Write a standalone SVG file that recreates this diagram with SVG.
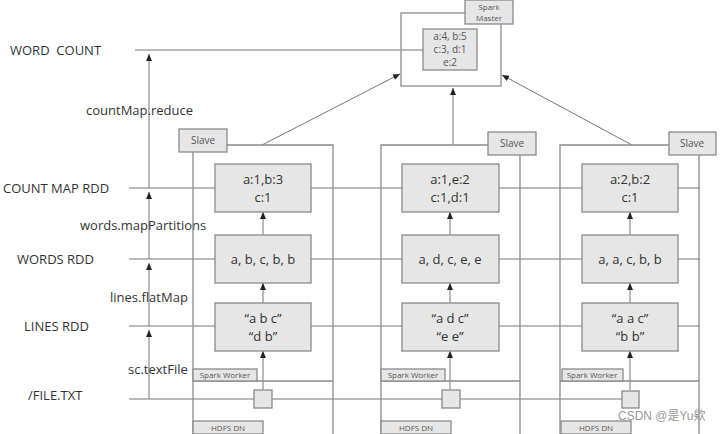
<svg xmlns="http://www.w3.org/2000/svg" width="728" height="434" viewBox="0 0 728 434">
<style>
text{font-family:"Open Sans","Liberation Sans",sans-serif;fill:#333}
.lbl{font-size:13px}
.b{fill:#e6e6e6;stroke:#8a8a8a;stroke-width:1.3}
.o{fill:none;stroke:#8a8a8a;stroke-width:1.3}
.l{stroke:#777;stroke-width:1;fill:none}
.d{font-size:13px;text-anchor:middle}
.s{font-size:9px;text-anchor:middle;fill:#555}
</style>
<defs><marker id="a" markerWidth="8" markerHeight="8" refX="7" refY="4" orient="auto" markerUnits="userSpaceOnUse"><path d="M0,1 L7,4 L0,7z" fill="#222"/></marker></defs>
<rect width="728" height="434" fill="#fff"/>
<g id="connectors">
<line class="l" x1="135" y1="50" x2="423" y2="50"/>
<line class="l" x1="129" y1="188" x2="700" y2="188"/>
<line class="l" x1="129" y1="259" x2="700" y2="259"/>
<line class="l" x1="129" y1="326" x2="700" y2="326"/>
<line class="l" x1="129" y1="399" x2="622" y2="399"/>
<line class="l" x1="149" y1="399" x2="149" y2="330" marker-end="url(#a)"/>
<line class="l" x1="149" y1="326" x2="149" y2="263" marker-end="url(#a)"/>
<line class="l" x1="149" y1="259" x2="149" y2="192" marker-end="url(#a)"/>
<line class="l" x1="149" y1="188" x2="149" y2="54" marker-end="url(#a)"/>
<g>
<line class="l" x1="263" y1="390" x2="263" y2="351" marker-end="url(#a)"/>
<line class="l" x1="263" y1="303" x2="263" y2="283" marker-end="url(#a)"/>
<line class="l" x1="263" y1="235" x2="263" y2="212" marker-end="url(#a)"/>
<line class="l" x1="450" y1="390" x2="450" y2="351" marker-end="url(#a)"/>
<line class="l" x1="450" y1="303" x2="450" y2="283" marker-end="url(#a)"/>
<line class="l" x1="450" y1="235" x2="450" y2="212" marker-end="url(#a)"/>
<line class="l" x1="630" y1="390" x2="630" y2="351" marker-end="url(#a)"/>
<line class="l" x1="630" y1="303" x2="630" y2="283" marker-end="url(#a)"/>
<line class="l" x1="630" y1="235" x2="630" y2="212" marker-end="url(#a)"/>
</g>
<line class="l" x1="262" y1="145" x2="400" y2="74" marker-end="url(#a)"/>
<line class="l" x1="453" y1="145" x2="453" y2="88" marker-end="url(#a)"/>
<line class="l" x1="632" y1="145" x2="502" y2="75" marker-end="url(#a)"/>
</g>
<g id="labels">
<text class="lbl" x="10" y="55" xml:space="preserve">WORD  COUNT</text>
<text class="lbl" x="86" y="115">countMap.reduce</text>
<text class="lbl" x="3" y="193">COUNT MAP RDD</text>
<text class="lbl" x="80" y="230">words.mapPartitions</text>
<text class="lbl" x="17" y="264">WORDS RDD</text>
<text class="lbl" x="110" y="302">lines.flatMap</text>
<text class="lbl" x="24" y="331">LINES RDD</text>
<text class="lbl" x="128" y="374">sc.textFile</text>
<text class="lbl" x="28" y="400">/FILE.TXT</text>
</g>
<g id="master">
<rect class="o" x="401" y="13" width="100" height="73" fill="#fff"/>
<rect class="b" x="465" y="0" width="48" height="24"/>
<text class="s" style="font-size:8px" x="489" y="10">Spark</text><text class="s" style="font-size:8px" x="489" y="21">Master</text>
<rect class="b" x="423" y="29" width="54" height="41"/>
<text class="s" style="font-size:10px" x="450" y="40">a:4, b:5</text>
<text class="s" style="font-size:10px" x="450" y="53">c:3, d:1</text>
<text class="s" style="font-size:10px" x="450" y="66">e:2</text>
</g>
<g id="slave1">
<path class="o" d="M193,434 V145 H333 V434"/>
<rect class="b" x="179" y="129" width="48" height="23"/>
<text class="s" style="font-size:10px" x="203" y="144">Slave</text>
<line class="o" x1="193" y1="381" x2="333" y2="381"/>
<rect class="b" x="193" y="369" width="64" height="12"/>
<text class="s" style="font-size:8px" x="225" y="378">Spark Worker</text>
<rect class="b" x="254" y="390" width="18" height="18"/>
<rect class="b" x="193" y="421" width="70" height="13"/>
<text class="s" style="font-size:8px" x="228" y="431">HDFS DN</text>
<rect class="b" x="215" y="164" width="96" height="48"/>
<text class="d" x="263" y="184">a:1,b:3</text><text class="d" x="263" y="202">c:1</text>
<rect class="b" x="215" y="235" width="96" height="48"/>
<text class="d" x="263" y="264">a, b, c, b, b</text>
<rect class="b" x="215" y="303" width="96" height="48"/>
<text class="d" x="263" y="323">“a b c”</text><text class="d" x="263" y="341">“d b”</text>
</g>
<g id="slave2">
<path class="o" d="M381,434 V145 H520 V434"/>
<rect class="b" x="488" y="132" width="48" height="23"/>
<text class="s" style="font-size:10px" x="512" y="147">Slave</text>
<line class="o" x1="381" y1="381" x2="520" y2="381"/>
<rect class="b" x="381" y="369" width="64" height="12"/>
<text class="s" style="font-size:8px" x="413" y="378">Spark Worker</text>
<rect class="b" x="442" y="390" width="18" height="18"/>
<rect class="b" x="381" y="421" width="70" height="13"/>
<text class="s" style="font-size:8px" x="416" y="431">HDFS DN</text>
<rect class="b" x="402" y="164" width="97" height="48"/>
<text class="d" x="450" y="184">a:1,e:2</text><text class="d" x="450" y="202">c:1,d:1</text>
<rect class="b" x="402" y="235" width="97" height="48"/>
<text class="d" x="450" y="264">a, d, c, e, e</text>
<rect class="b" x="402" y="303" width="97" height="48"/>
<text class="d" x="450" y="323">“a d c”</text><text class="d" x="450" y="341">“e e”</text>
</g>
<g id="slave3">
<path class="o" d="M560,434 V145 H699 V434"/>
<rect class="b" x="669" y="132" width="47" height="23"/>
<text class="s" style="font-size:10px" x="692" y="147">Slave</text>
<line class="o" x1="560" y1="381" x2="699" y2="381"/>
<rect class="b" x="562" y="369" width="61" height="12"/>
<text class="s" style="font-size:8px" x="592" y="378">Spark Worker</text>
<rect class="b" x="622" y="391" width="17" height="17"/>
<rect class="b" x="561" y="421" width="70" height="13"/>
<text class="s" style="font-size:8px" x="596" y="431">HDFS DN</text>
<rect class="b" x="582" y="164" width="96" height="48"/>
<text class="d" x="630" y="184">a:2,b:2</text><text class="d" x="630" y="202">c:1</text>
<rect class="b" x="582" y="235" width="96" height="48"/>
<text class="d" x="630" y="264">a, a, c, b, b</text>
<rect class="b" x="582" y="303" width="96" height="48"/>
<text class="d" x="630" y="323">“a a c”</text><text class="d" x="630" y="341">“b b”</text>
</g>
<text x="618" y="420" style="font-family:'Liberation Sans','Noto Sans CJK SC',sans-serif;font-size:12px;fill:#999">CSDN @是Yu欸</text>
</svg>
